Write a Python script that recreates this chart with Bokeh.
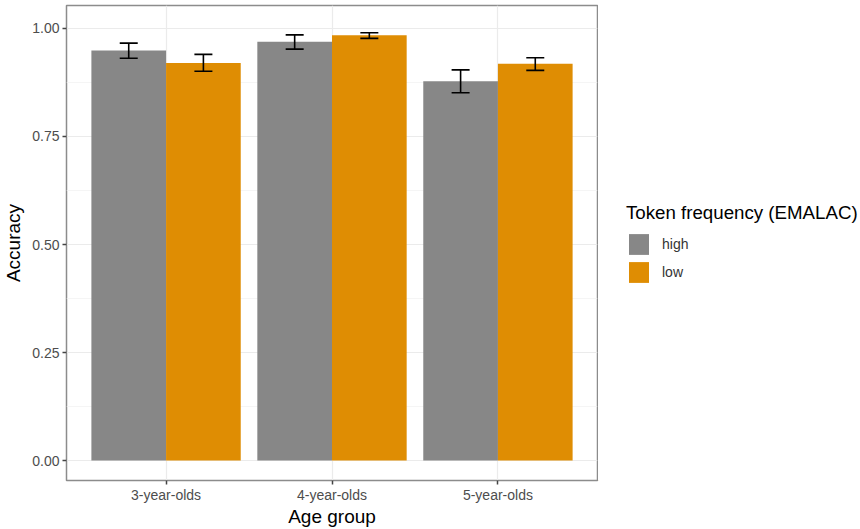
from bokeh.plotting import figure
from bokeh.layouts import row
from bokeh.models import (Range1d, FixedTicker, Whisker, TeeHead, ColumnDataSource,
                          Legend, LegendItem, NumeralTickFormatter)
from bokeh.embed import file_html
from bokeh.resources import INLINE

# Mean accuracy per age group and token-frequency condition, with error-bar bounds
age_groups = ["3-year-olds", "4-year-olds", "5-year-olds"]
high_mean = [0.949, 0.969, 0.878]
high_lower = [0.931, 0.952, 0.851]
high_upper = [0.966, 0.985, 0.904]
low_mean = [0.920, 0.984, 0.918]
low_lower = [0.901, 0.977, 0.903]
low_upper = [0.940, 0.990, 0.932]
y_ticks = [0.0, 0.25, 0.5, 0.75, 1.0]
freq_levels = ["high", "low"]

GREY = "#878787"
ORANGE = "#DF8D03"
FONT = "Liberation Sans"

group_pos = [i + 1 for i in range(len(age_groups))]
dodge = 0.225
bar_w = 0.45

# Main panel
p = figure(width=598, height=529, output_backend="svg", toolbar_location=None,
           x_range=Range1d(0.4, 3.6), y_range=Range1d(-0.046, 1.053),
           min_border_left=66, min_border_right=1, min_border_top=5,
           min_border_bottom=46)

high_src = ColumnDataSource(dict(x=[g - dodge for g in group_pos], top=high_mean,
                                 lo=high_lower, hi=high_upper))
low_src = ColumnDataSource(dict(x=[g + dodge for g in group_pos], top=low_mean,
                                lo=low_lower, hi=low_upper))

p.vbar(x="x", top="top", bottom=0, width=bar_w, source=high_src,
       fill_color=GREY, line_color=None)
p.vbar(x="x", top="top", bottom=0, width=bar_w, source=low_src,
       fill_color=ORANGE, line_color=None)

for src in (high_src, low_src):
    w = Whisker(base="x", lower="lo", upper="hi", source=src, dimension="height",
                line_color="black", line_width=1.6, level="overlay",
                upper_head=TeeHead(size=18, line_color="black", line_width=1.6),
                lower_head=TeeHead(size=18, line_color="black", line_width=1.6))
    p.add_layout(w)

# Axes
p.xaxis.ticker = FixedTicker(ticks=group_pos)
p.xaxis.major_label_overrides = {g: a for g, a in zip(group_pos, age_groups)}
p.yaxis.ticker = FixedTicker(ticks=y_ticks, minor_ticks=[0.125, 0.375, 0.625, 0.875])
p.yaxis.formatter = NumeralTickFormatter(format="0.00")
p.xaxis.axis_label = "Age group"
p.yaxis.axis_label = "Accuracy"

for ax in (p.xaxis, p.yaxis):
    ax.axis_line_color = None
    ax.minor_tick_line_color = None
    ax.major_tick_line_color = "#444444"
    ax.major_tick_line_width = 1.5
    ax.major_tick_in = 0
    ax.major_tick_out = 4
    ax.major_label_text_font = FONT
    ax.major_label_text_font_size = "14px"
    ax.major_label_text_color = "#4d4d4d"
    ax.axis_label_text_font = FONT
    ax.axis_label_text_font_size = "19px"
    ax.axis_label_text_font_style = "normal"
    ax.axis_label_text_color = "black"
p.xaxis.major_label_standoff = 2
p.yaxis.major_label_standoff = 3
p.xaxis.axis_label_standoff = 0
p.yaxis.axis_label_standoff = 5

# Grid
p.xgrid.grid_line_color = "#ebebeb"
p.ygrid.grid_line_color = "#ebebeb"
p.ygrid.minor_grid_line_color = "#f3f3f3"
p.xgrid.grid_line_width = 1.2
p.ygrid.grid_line_width = 1.2
p.ygrid.minor_grid_line_width = 0.8

# Panel border
p.outline_line_color = "#8c8c8c"
p.outline_line_width = 1.5
p.background_fill_color = "white"
p.border_fill_color = "white"

# Legend panel to the right of the chart
lp = figure(width=262, height=529, output_backend="svg", toolbar_location=None,
            x_range=Range1d(10, 11), y_range=Range1d(10, 11),
            min_border=0)
lp.axis.visible = False
lp.grid.visible = False
lp.outline_line_color = None
lp.border_fill_color = "white"
lp.background_fill_color = "white"

key_renderers = [lp.vbar(x=[0], top=[0], bottom=0, width=0, fill_color=c, line_color=None)
                 for c in (GREY, ORANGE)]

legend = Legend(items=[LegendItem(label=lvl, renderers=[r])
                       for lvl, r in zip(freq_levels, key_renderers)],
                location=(28, 195), orientation="vertical")
legend.title = "Token frequency (EMALAC)"
legend.title_text_font = FONT
legend.title_text_font_size = "18.7px"
legend.title_text_font_style = "normal"
legend.title_text_color = "black"
legend.title_standoff = 7
legend.label_text_font = FONT
legend.label_text_font_size = "14px"
legend.label_text_color = "#333333"
legend.glyph_width = 25
legend.glyph_height = 26
legend.label_standoff = 11
legend.spacing = 2
legend.padding = 4
legend.margin = 0
legend.border_line_color = None
legend.background_fill_alpha = 0
lp.add_layout(legend)

layout = row(p, lp, spacing=0)
open("out.html", "w").write(file_html(layout, INLINE))
